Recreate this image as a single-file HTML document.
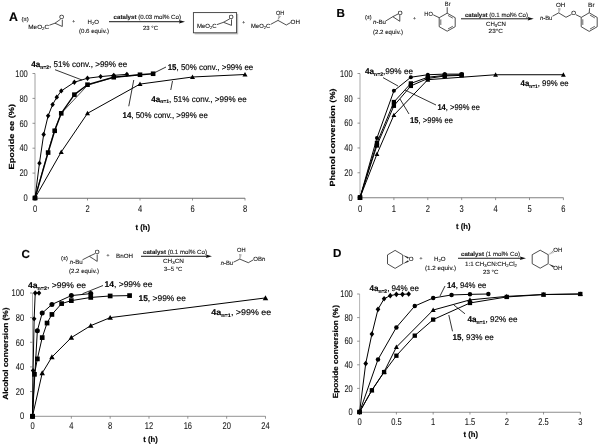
<!DOCTYPE html>
<html><head><meta charset="utf-8"><style>
html,body{margin:0;padding:0;background:#fff;}
svg{display:block;font-family:"Liberation Sans", sans-serif;text-rendering:geometricPrecision;}
text{stroke:#111;stroke-width:0.16px;}
.hd text{stroke-width:0.12px;}
text.tk{stroke-width:0.06px;}
</style></head><body>
<svg width="600" height="444" viewBox="0 0 600 444">
<defs><filter id="bl" x="0" y="0" width="600" height="444" filterUnits="userSpaceOnUse"><feGaussianBlur stdDeviation="0.4"/></filter></defs>
<rect width="600" height="444" fill="#fff"/>
<g filter="url(#bl)">
<path d="M35,73.49999999999999 V198" fill="none" stroke="#a0a0a0" stroke-width="1"/>
<path d="M34.5,198.2 H245.0" fill="none" stroke="#6e6e6e" stroke-width="1.1"/>
<line x1="32.5" y1="198.0" x2="35" y2="198.0" stroke="#7a7a7a" stroke-width="0.8"/>
<text x="27.8" y="201.28" font-size="9.8" text-anchor="end" textLength="4.2" lengthAdjust="spacingAndGlyphs" fill="#111" class="tk">0</text>
<line x1="32.5" y1="173.1" x2="35" y2="173.1" stroke="#7a7a7a" stroke-width="0.8"/>
<text x="27.8" y="176.38" font-size="9.8" text-anchor="end" textLength="8.39" lengthAdjust="spacingAndGlyphs" fill="#111" class="tk">20</text>
<line x1="32.5" y1="148.2" x2="35" y2="148.2" stroke="#7a7a7a" stroke-width="0.8"/>
<text x="27.8" y="151.48" font-size="9.8" text-anchor="end" textLength="8.39" lengthAdjust="spacingAndGlyphs" fill="#111" class="tk">40</text>
<line x1="32.5" y1="123.3" x2="35" y2="123.3" stroke="#7a7a7a" stroke-width="0.8"/>
<text x="27.8" y="126.58" font-size="9.8" text-anchor="end" textLength="8.39" lengthAdjust="spacingAndGlyphs" fill="#111" class="tk">60</text>
<line x1="32.5" y1="98.39999999999999" x2="35" y2="98.39999999999999" stroke="#7a7a7a" stroke-width="0.8"/>
<text x="27.8" y="101.68" font-size="9.8" text-anchor="end" textLength="8.39" lengthAdjust="spacingAndGlyphs" fill="#111" class="tk">80</text>
<line x1="32.5" y1="73.49999999999999" x2="35" y2="73.49999999999999" stroke="#7a7a7a" stroke-width="0.8"/>
<text x="27.8" y="76.78" font-size="9.8" text-anchor="end" textLength="12.59" lengthAdjust="spacingAndGlyphs" fill="#111" class="tk">100</text>
<line x1="35.0" y1="198" x2="35.0" y2="200.5" stroke="#7a7a7a" stroke-width="0.8"/>
<text x="35.0" y="212.13" font-size="9.8" text-anchor="middle" textLength="4.2" lengthAdjust="spacingAndGlyphs" fill="#111" class="tk">0</text>
<line x1="87.5" y1="198" x2="87.5" y2="200.5" stroke="#7a7a7a" stroke-width="0.8"/>
<text x="87.5" y="212.13" font-size="9.8" text-anchor="middle" textLength="4.2" lengthAdjust="spacingAndGlyphs" fill="#111" class="tk">2</text>
<line x1="140.0" y1="198" x2="140.0" y2="200.5" stroke="#7a7a7a" stroke-width="0.8"/>
<text x="140.0" y="212.13" font-size="9.8" text-anchor="middle" textLength="4.2" lengthAdjust="spacingAndGlyphs" fill="#111" class="tk">4</text>
<line x1="192.5" y1="198" x2="192.5" y2="200.5" stroke="#7a7a7a" stroke-width="0.8"/>
<text x="192.5" y="212.13" font-size="9.8" text-anchor="middle" textLength="4.2" lengthAdjust="spacingAndGlyphs" fill="#111" class="tk">6</text>
<line x1="245.0" y1="198" x2="245.0" y2="200.5" stroke="#7a7a7a" stroke-width="0.8"/>
<text x="245.0" y="212.13" font-size="9.8" text-anchor="middle" textLength="4.2" lengthAdjust="spacingAndGlyphs" fill="#111" class="tk">8</text>
<polyline points="35.00,198.00 61.25,151.94 87.50,113.34 140.00,84.08 192.50,76.99 245.00,74.50" fill="none" stroke="#000" stroke-width="1.0" stroke-linejoin="round" />
<polygon points="35.00,195.47 37.53,200.02 32.47,200.02" fill="#000"/>
<polygon points="61.25,149.41 63.78,153.96 58.72,153.96" fill="#000"/>
<polygon points="87.50,110.81 90.03,115.36 84.97,115.36" fill="#000"/>
<polygon points="140.00,81.55 142.53,86.11 137.47,86.11" fill="#000"/>
<polygon points="192.50,74.46 195.03,79.01 189.97,79.01" fill="#000"/>
<polygon points="245.00,71.97 247.53,76.52 242.47,76.52" fill="#000"/>
<polyline points="35.00,198.00 48.12,151.31 54.69,129.52 61.25,113.34 87.50,85.33 113.75,77.23 140.00,74.74" fill="none" stroke="#000" stroke-width="0.7" stroke-linejoin="round" />
<polyline points="35.00,198.00 48.12,152.56 54.69,130.77 61.25,113.34 74.38,94.66 87.50,84.70 113.75,77.23 140.00,74.74 153.12,73.75" fill="none" stroke="#000" stroke-width="1.4" stroke-linejoin="round" />
<rect x="32.70" y="195.70" width="4.6" height="4.6" fill="#000"/>
<rect x="45.83" y="150.26" width="4.6" height="4.6" fill="#000"/>
<rect x="52.39" y="128.47" width="4.6" height="4.6" fill="#000"/>
<rect x="58.95" y="111.04" width="4.6" height="4.6" fill="#000"/>
<rect x="72.08" y="92.36" width="4.6" height="4.6" fill="#000"/>
<rect x="85.20" y="82.40" width="4.6" height="4.6" fill="#000"/>
<rect x="111.45" y="74.93" width="4.6" height="4.6" fill="#000"/>
<rect x="137.70" y="72.44" width="4.6" height="4.6" fill="#000"/>
<rect x="150.82" y="71.45" width="4.6" height="4.6" fill="#000"/>
<polyline points="35.00,198.00 39.46,163.14 43.66,134.50 48.12,115.83 52.59,104.62 56.79,97.15 61.25,90.93 74.38,82.21 87.50,78.23 100.62,76.61 113.75,75.37 126.88,74.37" fill="none" stroke="#000" stroke-width="1.0" stroke-linejoin="round" />
<polygon points="35.00,195.33 37.24,198.00 35.00,200.67 32.76,198.00" fill="#000"/>
<polygon points="39.46,160.47 41.70,163.14 39.46,165.81 37.23,163.14" fill="#000"/>
<polygon points="43.66,131.84 45.90,134.50 43.66,137.17 41.43,134.50" fill="#000"/>
<polygon points="48.12,113.16 50.36,115.83 48.12,118.50 45.89,115.83" fill="#000"/>
<polygon points="52.59,101.96 54.82,104.62 52.59,107.29 50.35,104.62" fill="#000"/>
<polygon points="56.79,94.49 59.02,97.15 56.79,99.82 54.55,97.15" fill="#000"/>
<polygon points="61.25,88.26 63.49,90.93 61.25,93.60 59.01,90.93" fill="#000"/>
<polygon points="74.38,79.55 76.61,82.21 74.38,84.88 72.14,82.21" fill="#000"/>
<polygon points="87.50,75.56 89.74,78.23 87.50,80.90 85.26,78.23" fill="#000"/>
<polygon points="100.62,73.95 102.86,76.61 100.62,79.28 98.39,76.61" fill="#000"/>
<polygon points="113.75,72.70 115.99,75.37 113.75,78.03 111.51,75.37" fill="#000"/>
<polygon points="126.88,71.71 129.11,74.37 126.88,77.04 124.64,74.37" fill="#000"/>
<rect x="32.80" y="195.80" width="4.4" height="4.4" fill="#000"/>
<text transform="translate(11.3,136.65) rotate(-90)" y="2.66" font-size="7.4" text-anchor="middle" font-weight="bold" textLength="65.5" lengthAdjust="spacingAndGlyphs" fill="#000" >Epoxide ee (%)</text>
<text x="142.7" y="229.81" font-size="7.8" text-anchor="middle" font-weight="bold" textLength="14.5" lengthAdjust="spacingAndGlyphs" fill="#000" >t (h)</text>
<line x1="55" y1="69.7" x2="82" y2="80" stroke="#000" stroke-width="0.8"/>
<text x="31.3" y="67.19" font-size="8.3" fill="#000" textLength="96" lengthAdjust="spacingAndGlyphs"><tspan font-weight="bold">4a</tspan><tspan font-weight="bold" font-size="5.15" dy="1.6">n=2</tspan><tspan dy="-1.6">, 51% conv., &gt;99% ee</tspan></text>
<line x1="152.5" y1="73.75" x2="166" y2="67" stroke="#000" stroke-width="0.8"/>
<text x="167.7" y="69.69" font-size="8.3" fill="#000" textLength="85.6" lengthAdjust="spacingAndGlyphs"><tspan font-weight="bold">15</tspan><tspan>, 50% conv., &gt;99% ee</tspan></text>
<line x1="172.5" y1="81" x2="170.75" y2="90" stroke="#000" stroke-width="0.8"/>
<text x="151.25" y="101.59" font-size="8.3" fill="#000" textLength="95.5" lengthAdjust="spacingAndGlyphs"><tspan font-weight="bold">4a</tspan><tspan font-weight="bold" font-size="5.15" dy="1.6">n=1</tspan><tspan dy="-1.6">, 51% conv., &gt;99% ee</tspan></text>
<line x1="133.75" y1="80" x2="128.75" y2="106.25" stroke="#000" stroke-width="0.8"/>
<text x="122.5" y="117.69" font-size="8.3" fill="#000" textLength="85.3" lengthAdjust="spacingAndGlyphs"><tspan font-weight="bold">14</tspan><tspan>, 50% conv., &gt;99% ee</tspan></text>
<path d="M360,73.49999999999999 V197.6" fill="none" stroke="#a8a8a8" stroke-width="1"/>
<path d="M359.5,197.79999999999998 H563.4" fill="none" stroke="#808080" stroke-width="1.1"/>
<line x1="357.5" y1="197.6" x2="360" y2="197.6" stroke="#7a7a7a" stroke-width="0.8"/>
<text x="352.6" y="200.88" font-size="9.8" text-anchor="end" textLength="4.2" lengthAdjust="spacingAndGlyphs" fill="#111" class="tk">0</text>
<line x1="357.5" y1="172.78" x2="360" y2="172.78" stroke="#7a7a7a" stroke-width="0.8"/>
<text x="352.6" y="176.06" font-size="9.8" text-anchor="end" textLength="8.39" lengthAdjust="spacingAndGlyphs" fill="#111" class="tk">20</text>
<line x1="357.5" y1="147.95999999999998" x2="360" y2="147.95999999999998" stroke="#7a7a7a" stroke-width="0.8"/>
<text x="352.6" y="151.24" font-size="9.8" text-anchor="end" textLength="8.39" lengthAdjust="spacingAndGlyphs" fill="#111" class="tk">40</text>
<line x1="357.5" y1="123.13999999999999" x2="360" y2="123.13999999999999" stroke="#7a7a7a" stroke-width="0.8"/>
<text x="352.6" y="126.42" font-size="9.8" text-anchor="end" textLength="8.39" lengthAdjust="spacingAndGlyphs" fill="#111" class="tk">60</text>
<line x1="357.5" y1="98.32" x2="360" y2="98.32" stroke="#7a7a7a" stroke-width="0.8"/>
<text x="352.6" y="101.60" font-size="9.8" text-anchor="end" textLength="8.39" lengthAdjust="spacingAndGlyphs" fill="#111" class="tk">80</text>
<line x1="357.5" y1="73.49999999999999" x2="360" y2="73.49999999999999" stroke="#7a7a7a" stroke-width="0.8"/>
<text x="352.6" y="76.78" font-size="9.8" text-anchor="end" textLength="12.59" lengthAdjust="spacingAndGlyphs" fill="#111" class="tk">100</text>
<line x1="360.0" y1="197.6" x2="360.0" y2="200.1" stroke="#7a7a7a" stroke-width="0.8"/>
<text x="360.0" y="212.03" font-size="9.8" text-anchor="middle" textLength="4.2" lengthAdjust="spacingAndGlyphs" fill="#111" class="tk">0</text>
<line x1="393.9" y1="197.6" x2="393.9" y2="200.1" stroke="#7a7a7a" stroke-width="0.8"/>
<text x="393.9" y="212.03" font-size="9.8" text-anchor="middle" textLength="4.2" lengthAdjust="spacingAndGlyphs" fill="#111" class="tk">1</text>
<line x1="427.8" y1="197.6" x2="427.8" y2="200.1" stroke="#7a7a7a" stroke-width="0.8"/>
<text x="427.8" y="212.03" font-size="9.8" text-anchor="middle" textLength="4.2" lengthAdjust="spacingAndGlyphs" fill="#111" class="tk">2</text>
<line x1="461.7" y1="197.6" x2="461.7" y2="200.1" stroke="#7a7a7a" stroke-width="0.8"/>
<text x="461.7" y="212.03" font-size="9.8" text-anchor="middle" textLength="4.2" lengthAdjust="spacingAndGlyphs" fill="#111" class="tk">3</text>
<line x1="495.6" y1="197.6" x2="495.6" y2="200.1" stroke="#7a7a7a" stroke-width="0.8"/>
<text x="495.6" y="212.03" font-size="9.8" text-anchor="middle" textLength="4.2" lengthAdjust="spacingAndGlyphs" fill="#111" class="tk">4</text>
<line x1="529.5" y1="197.6" x2="529.5" y2="200.1" stroke="#7a7a7a" stroke-width="0.8"/>
<text x="529.5" y="212.03" font-size="9.8" text-anchor="middle" textLength="4.2" lengthAdjust="spacingAndGlyphs" fill="#111" class="tk">5</text>
<line x1="563.4" y1="197.6" x2="563.4" y2="200.1" stroke="#7a7a7a" stroke-width="0.8"/>
<text x="563.4" y="212.03" font-size="9.8" text-anchor="middle" textLength="4.2" lengthAdjust="spacingAndGlyphs" fill="#111" class="tk">6</text>
<polyline points="360.00,197.60 376.95,154.16 393.90,115.07 427.80,79.70 495.60,74.74 563.40,74.74" fill="none" stroke="#000" stroke-width="1.0" stroke-linejoin="round" />
<polygon points="360.00,195.18 362.42,199.54 357.58,199.54" fill="#000"/>
<polygon points="376.95,151.75 379.37,156.10 374.53,156.10" fill="#000"/>
<polygon points="393.90,112.65 396.32,117.01 391.48,117.01" fill="#000"/>
<polygon points="427.80,77.28 430.22,81.64 425.38,81.64" fill="#000"/>
<polygon points="495.60,72.32 498.02,76.68 493.18,76.68" fill="#000"/>
<polygon points="563.40,72.32 565.82,76.68 560.98,76.68" fill="#000"/>
<polyline points="360.00,197.60 376.95,145.48 393.90,105.77 410.85,85.91 427.80,78.46 444.75,75.98 461.70,75.36" fill="none" stroke="#000" stroke-width="1.0" stroke-linejoin="round" />
<rect x="357.85" y="195.45" width="4.3" height="4.3" fill="#000"/>
<rect x="374.80" y="143.33" width="4.3" height="4.3" fill="#000"/>
<rect x="391.75" y="103.62" width="4.3" height="4.3" fill="#000"/>
<rect x="408.70" y="83.76" width="4.3" height="4.3" fill="#000"/>
<rect x="425.65" y="76.31" width="4.3" height="4.3" fill="#000"/>
<rect x="442.60" y="73.83" width="4.3" height="4.3" fill="#000"/>
<rect x="459.55" y="73.21" width="4.3" height="4.3" fill="#000"/>
<polyline points="360.00,197.60 376.95,143.00 393.90,102.04 410.85,83.43 427.80,77.22 444.75,75.36 461.70,74.74" fill="none" stroke="#000" stroke-width="1.0" stroke-linejoin="round" />
<rect x="357.85" y="195.45" width="4.3" height="4.3" fill="#000"/>
<rect x="374.80" y="140.85" width="4.3" height="4.3" fill="#000"/>
<rect x="391.75" y="99.89" width="4.3" height="4.3" fill="#000"/>
<rect x="408.70" y="81.28" width="4.3" height="4.3" fill="#000"/>
<rect x="425.65" y="75.07" width="4.3" height="4.3" fill="#000"/>
<rect x="442.60" y="73.21" width="4.3" height="4.3" fill="#000"/>
<rect x="459.55" y="72.59" width="4.3" height="4.3" fill="#000"/>
<polyline points="360.00,197.60 376.95,138.03 393.90,90.87 410.85,77.22 427.80,74.74 444.75,74.12 461.70,74.12" fill="none" stroke="#000" stroke-width="1.0" stroke-linejoin="round" />
<circle cx="360.00" cy="197.60" r="2.00" fill="#000"/>
<circle cx="376.95" cy="138.03" r="2.00" fill="#000"/>
<circle cx="393.90" cy="90.87" r="2.00" fill="#000"/>
<circle cx="410.85" cy="77.22" r="2.00" fill="#000"/>
<circle cx="427.80" cy="74.74" r="2.00" fill="#000"/>
<circle cx="444.75" cy="74.12" r="2.00" fill="#000"/>
<circle cx="461.70" cy="74.12" r="2.00" fill="#000"/>
<rect x="357.80" y="195.40" width="4.4" height="4.4" fill="#000"/>
<text transform="translate(332.6,137.5) rotate(-90)" y="2.66" font-size="7.4" text-anchor="middle" font-weight="bold" textLength="98" lengthAdjust="spacingAndGlyphs" fill="#000" >Phenol conversion (%)</text>
<text x="463.3" y="229.11" font-size="7.8" text-anchor="middle" font-weight="bold" textLength="14.5" lengthAdjust="spacingAndGlyphs" fill="#000" >t (h)</text>
<line x1="383" y1="77.6" x2="398" y2="86" stroke="#000" stroke-width="0.8"/>
<text x="365" y="73.99" font-size="8.3" fill="#000" textLength="48" lengthAdjust="spacingAndGlyphs"><tspan font-weight="bold">4a</tspan><tspan font-weight="bold" font-size="5.15" dy="1.6">n=2</tspan><tspan dy="-1.6">,99% ee</tspan></text>
<line x1="405" y1="90" x2="436" y2="105" stroke="#000" stroke-width="0.8"/>
<text x="437.4" y="109.79" font-size="8.3" fill="#000" textLength="42.6" lengthAdjust="spacingAndGlyphs"><tspan font-weight="bold">14</tspan><tspan>, &gt;99% ee</tspan></text>
<line x1="400" y1="99" x2="409" y2="114" stroke="#000" stroke-width="0.8"/>
<text x="410" y="122.59" font-size="8.3" fill="#000" textLength="43" lengthAdjust="spacingAndGlyphs"><tspan font-weight="bold">15</tspan><tspan>, &gt;99% ee</tspan></text>
<text x="520.6" y="86.49" font-size="8.3" fill="#000" textLength="48" lengthAdjust="spacingAndGlyphs"><tspan font-weight="bold">4a</tspan><tspan font-weight="bold" font-size="5.15" dy="1.6">n=1</tspan><tspan dy="-1.6">, 99% ee</tspan></text>
<path d="M32.5,293.0 V416.2" fill="none" stroke="#a8a8a8" stroke-width="1"/>
<path d="M32.0,416.4 H265.492" fill="none" stroke="#a8a8a8" stroke-width="1.1"/>
<line x1="30.0" y1="416.2" x2="32.5" y2="416.2" stroke="#7a7a7a" stroke-width="0.8"/>
<text x="24.2" y="419.48" font-size="9.8" text-anchor="end" textLength="4.2" lengthAdjust="spacingAndGlyphs" fill="#111" class="tk">0</text>
<line x1="30.0" y1="391.56" x2="32.5" y2="391.56" stroke="#7a7a7a" stroke-width="0.8"/>
<text x="24.2" y="394.84" font-size="9.8" text-anchor="end" textLength="8.39" lengthAdjust="spacingAndGlyphs" fill="#111" class="tk">20</text>
<line x1="30.0" y1="366.91999999999996" x2="32.5" y2="366.91999999999996" stroke="#7a7a7a" stroke-width="0.8"/>
<text x="24.2" y="370.20" font-size="9.8" text-anchor="end" textLength="8.39" lengthAdjust="spacingAndGlyphs" fill="#111" class="tk">40</text>
<line x1="30.0" y1="342.28" x2="32.5" y2="342.28" stroke="#7a7a7a" stroke-width="0.8"/>
<text x="24.2" y="345.56" font-size="9.8" text-anchor="end" textLength="8.39" lengthAdjust="spacingAndGlyphs" fill="#111" class="tk">60</text>
<line x1="30.0" y1="317.64" x2="32.5" y2="317.64" stroke="#7a7a7a" stroke-width="0.8"/>
<text x="24.2" y="320.92" font-size="9.8" text-anchor="end" textLength="8.39" lengthAdjust="spacingAndGlyphs" fill="#111" class="tk">80</text>
<line x1="30.0" y1="293.0" x2="32.5" y2="293.0" stroke="#7a7a7a" stroke-width="0.8"/>
<text x="24.2" y="296.28" font-size="9.8" text-anchor="end" textLength="12.59" lengthAdjust="spacingAndGlyphs" fill="#111" class="tk">100</text>
<line x1="32.5" y1="416.2" x2="32.5" y2="418.7" stroke="#7a7a7a" stroke-width="0.8"/>
<text x="32.5" y="429.13" font-size="9.8" text-anchor="middle" textLength="4.2" lengthAdjust="spacingAndGlyphs" fill="#111" class="tk">0</text>
<line x1="71.332" y1="416.2" x2="71.332" y2="418.7" stroke="#7a7a7a" stroke-width="0.8"/>
<text x="71.332" y="429.13" font-size="9.8" text-anchor="middle" textLength="4.2" lengthAdjust="spacingAndGlyphs" fill="#111" class="tk">4</text>
<line x1="110.164" y1="416.2" x2="110.164" y2="418.7" stroke="#7a7a7a" stroke-width="0.8"/>
<text x="110.164" y="429.13" font-size="9.8" text-anchor="middle" textLength="4.2" lengthAdjust="spacingAndGlyphs" fill="#111" class="tk">8</text>
<line x1="148.996" y1="416.2" x2="148.996" y2="418.7" stroke="#7a7a7a" stroke-width="0.8"/>
<text x="148.996" y="429.13" font-size="9.8" text-anchor="middle" textLength="8.39" lengthAdjust="spacingAndGlyphs" fill="#111" class="tk">12</text>
<line x1="187.828" y1="416.2" x2="187.828" y2="418.7" stroke="#7a7a7a" stroke-width="0.8"/>
<text x="187.828" y="429.13" font-size="9.8" text-anchor="middle" textLength="8.39" lengthAdjust="spacingAndGlyphs" fill="#111" class="tk">16</text>
<line x1="226.66" y1="416.2" x2="226.66" y2="418.7" stroke="#7a7a7a" stroke-width="0.8"/>
<text x="226.66" y="429.13" font-size="9.8" text-anchor="middle" textLength="8.39" lengthAdjust="spacingAndGlyphs" fill="#111" class="tk">20</text>
<line x1="265.492" y1="416.2" x2="265.492" y2="418.7" stroke="#7a7a7a" stroke-width="0.8"/>
<text x="265.492" y="429.13" font-size="9.8" text-anchor="middle" textLength="8.39" lengthAdjust="spacingAndGlyphs" fill="#111" class="tk">24</text>
<polyline points="32.50,416.20 42.21,373.08 51.92,357.06 71.33,337.60 90.75,325.65 110.16,317.64 265.49,297.93" fill="none" stroke="#000" stroke-width="1.0" stroke-linejoin="round" />
<polygon points="32.50,413.45 35.25,418.40 29.75,418.40" fill="#000"/>
<polygon points="42.21,370.33 44.96,375.28 39.46,375.28" fill="#000"/>
<polygon points="51.92,354.31 54.67,359.26 49.17,359.26" fill="#000"/>
<polygon points="71.33,334.85 74.08,339.80 68.58,339.80" fill="#000"/>
<polygon points="90.75,322.90 93.50,327.85 88.00,327.85" fill="#000"/>
<polygon points="110.16,314.89 112.91,319.84 107.41,319.84" fill="#000"/>
<polygon points="265.49,295.18 268.24,300.13 262.74,300.13" fill="#000"/>
<polyline points="32.50,416.20 34.44,374.31 37.35,358.91 42.21,337.60 47.06,323.06 51.92,314.44 61.62,303.60 71.33,300.64 90.75,297.44 110.16,295.96 129.58,295.59" fill="none" stroke="#000" stroke-width="1.0" stroke-linejoin="round" />
<rect x="30.15" y="413.85" width="4.7" height="4.7" fill="#000"/>
<rect x="32.09" y="371.96" width="4.7" height="4.7" fill="#000"/>
<rect x="35.00" y="356.56" width="4.7" height="4.7" fill="#000"/>
<rect x="39.86" y="335.25" width="4.7" height="4.7" fill="#000"/>
<rect x="44.71" y="320.71" width="4.7" height="4.7" fill="#000"/>
<rect x="49.57" y="312.09" width="4.7" height="4.7" fill="#000"/>
<rect x="59.27" y="301.25" width="4.7" height="4.7" fill="#000"/>
<rect x="68.98" y="298.29" width="4.7" height="4.7" fill="#000"/>
<rect x="88.40" y="295.09" width="4.7" height="4.7" fill="#000"/>
<rect x="107.81" y="293.61" width="4.7" height="4.7" fill="#000"/>
<rect x="127.23" y="293.24" width="4.7" height="4.7" fill="#000"/>
<polyline points="32.50,416.20 37.35,330.70 42.21,313.08 51.92,304.46 71.33,295.59 90.75,293.62" fill="none" stroke="#000" stroke-width="1.0" stroke-linejoin="round" />
<circle cx="32.50" cy="416.20" r="2.50" fill="#000"/>
<circle cx="37.35" cy="330.70" r="2.50" fill="#000"/>
<circle cx="42.21" cy="313.08" r="2.50" fill="#000"/>
<circle cx="51.92" cy="304.46" r="2.50" fill="#000"/>
<circle cx="71.33" cy="295.59" r="2.50" fill="#000"/>
<circle cx="90.75" cy="293.62" r="2.50" fill="#000"/>
<polyline points="32.50,416.20 33.08,370.62 34.15,318.87 35.22,293.00 39.00,293.00" fill="none" stroke="#000" stroke-width="1.0" stroke-linejoin="round" />
<polygon points="32.50,413.47 34.79,416.20 32.50,418.93 30.21,416.20" fill="#000"/>
<polygon points="33.08,367.89 35.37,370.62 33.08,373.34 30.79,370.62" fill="#000"/>
<polygon points="34.15,316.14 36.44,318.87 34.15,321.60 31.86,318.87" fill="#000"/>
<polygon points="35.22,290.27 37.51,293.00 35.22,295.73 32.93,293.00" fill="#000"/>
<polygon points="39.00,290.27 41.29,293.00 39.00,295.73 36.72,293.00" fill="#000"/>
<rect x="30.30" y="414.00" width="4.4" height="4.4" fill="#000"/>
<text transform="translate(5.65,353.65) rotate(-90)" y="2.66" font-size="7.4" text-anchor="middle" font-weight="bold" textLength="92.3" lengthAdjust="spacingAndGlyphs" fill="#000" >Alcohol conversion (%)</text>
<text x="150.5" y="441.81" font-size="7.8" text-anchor="middle" font-weight="bold" textLength="14.5" lengthAdjust="spacingAndGlyphs" fill="#000" >t (h)</text>
<text x="28" y="287.99" font-size="8.3" fill="#000" textLength="58" lengthAdjust="spacingAndGlyphs"><tspan font-weight="bold">4a</tspan><tspan font-weight="bold" font-size="5.15" dy="1.6">n=2</tspan><tspan dy="-1.6">, &gt;99% ee</tspan></text>
<line x1="82.5" y1="293.75" x2="103" y2="285.5" stroke="#000" stroke-width="0.8"/>
<text x="104.5" y="287.49" font-size="8.3" fill="#000" textLength="48" lengthAdjust="spacingAndGlyphs"><tspan font-weight="bold">14</tspan><tspan>, &gt;99% ee</tspan></text>
<text x="138.5" y="300.79" font-size="8.3" fill="#000" textLength="47.5" lengthAdjust="spacingAndGlyphs"><tspan font-weight="bold">15</tspan><tspan>, &gt;99% ee</tspan></text>
<text x="211.3" y="315.49" font-size="8.3" fill="#000" textLength="60" lengthAdjust="spacingAndGlyphs"><tspan font-weight="bold">4a</tspan><tspan font-weight="bold" font-size="5.15" dy="1.6">n=1</tspan><tspan dy="-1.6">, &gt;99% ee</tspan></text>
<path d="M359.6,294.0 V412" fill="none" stroke="#b4b4b4" stroke-width="1"/>
<path d="M359.1,412.2 H580.31" fill="none" stroke="#8c8c8c" stroke-width="1.1"/>
<line x1="357.1" y1="412.0" x2="359.6" y2="412.0" stroke="#7a7a7a" stroke-width="0.8"/>
<text x="352.8" y="415.28" font-size="9.8" text-anchor="end" textLength="4.2" lengthAdjust="spacingAndGlyphs" fill="#111" class="tk">0</text>
<line x1="357.1" y1="388.4" x2="359.6" y2="388.4" stroke="#7a7a7a" stroke-width="0.8"/>
<text x="352.8" y="391.68" font-size="9.8" text-anchor="end" textLength="8.39" lengthAdjust="spacingAndGlyphs" fill="#111" class="tk">20</text>
<line x1="357.1" y1="364.8" x2="359.6" y2="364.8" stroke="#7a7a7a" stroke-width="0.8"/>
<text x="352.8" y="368.08" font-size="9.8" text-anchor="end" textLength="8.39" lengthAdjust="spacingAndGlyphs" fill="#111" class="tk">40</text>
<line x1="357.1" y1="341.2" x2="359.6" y2="341.2" stroke="#7a7a7a" stroke-width="0.8"/>
<text x="352.8" y="344.48" font-size="9.8" text-anchor="end" textLength="8.39" lengthAdjust="spacingAndGlyphs" fill="#111" class="tk">60</text>
<line x1="357.1" y1="317.6" x2="359.6" y2="317.6" stroke="#7a7a7a" stroke-width="0.8"/>
<text x="352.8" y="320.88" font-size="9.8" text-anchor="end" textLength="8.39" lengthAdjust="spacingAndGlyphs" fill="#111" class="tk">80</text>
<line x1="357.1" y1="294.0" x2="359.6" y2="294.0" stroke="#7a7a7a" stroke-width="0.8"/>
<text x="352.8" y="297.28" font-size="9.8" text-anchor="end" textLength="12.59" lengthAdjust="spacingAndGlyphs" fill="#111" class="tk">100</text>
<line x1="359.6" y1="412" x2="359.6" y2="414.5" stroke="#7a7a7a" stroke-width="0.8"/>
<text x="359.6" y="425.13" font-size="9.8" text-anchor="middle" textLength="4.2" lengthAdjust="spacingAndGlyphs" fill="#111" class="tk">0</text>
<line x1="396.385" y1="412" x2="396.385" y2="414.5" stroke="#7a7a7a" stroke-width="0.8"/>
<text x="396.385" y="425.13" font-size="9.8" text-anchor="middle" textLength="10.49" lengthAdjust="spacingAndGlyphs" fill="#111" class="tk">0.5</text>
<line x1="433.17" y1="412" x2="433.17" y2="414.5" stroke="#7a7a7a" stroke-width="0.8"/>
<text x="433.17" y="425.13" font-size="9.8" text-anchor="middle" textLength="4.2" lengthAdjust="spacingAndGlyphs" fill="#111" class="tk">1</text>
<line x1="469.95500000000004" y1="412" x2="469.95500000000004" y2="414.5" stroke="#7a7a7a" stroke-width="0.8"/>
<text x="469.95500000000004" y="425.13" font-size="9.8" text-anchor="middle" textLength="10.49" lengthAdjust="spacingAndGlyphs" fill="#111" class="tk">1.5</text>
<line x1="506.74" y1="412" x2="506.74" y2="414.5" stroke="#7a7a7a" stroke-width="0.8"/>
<text x="506.74" y="425.13" font-size="9.8" text-anchor="middle" textLength="4.2" lengthAdjust="spacingAndGlyphs" fill="#111" class="tk">2</text>
<line x1="543.525" y1="412" x2="543.525" y2="414.5" stroke="#7a7a7a" stroke-width="0.8"/>
<text x="543.525" y="425.13" font-size="9.8" text-anchor="middle" textLength="10.49" lengthAdjust="spacingAndGlyphs" fill="#111" class="tk">2.5</text>
<line x1="580.31" y1="412" x2="580.31" y2="414.5" stroke="#7a7a7a" stroke-width="0.8"/>
<text x="580.31" y="425.13" font-size="9.8" text-anchor="middle" textLength="4.2" lengthAdjust="spacingAndGlyphs" fill="#111" class="tk">3</text>
<polyline points="359.60,412.00 371.89,390.17 384.10,371.88 396.38,347.10 433.17,310.05 469.96,299.90 506.74,296.36 543.52,294.47 580.31,294.00" fill="none" stroke="#000" stroke-width="1.0" stroke-linejoin="round" />
<polygon points="359.60,409.47 362.13,414.02 357.07,414.02" fill="#000"/>
<polygon points="371.89,387.64 374.42,392.19 369.36,392.19" fill="#000"/>
<polygon points="384.10,369.35 386.63,373.90 381.57,373.90" fill="#000"/>
<polygon points="396.38,344.57 398.91,349.12 393.86,349.12" fill="#000"/>
<polygon points="433.17,307.52 435.70,312.07 430.64,312.07" fill="#000"/>
<polygon points="469.96,297.37 472.49,301.92 467.43,301.92" fill="#000"/>
<polygon points="506.74,293.83 509.27,298.38 504.21,298.38" fill="#000"/>
<polygon points="543.52,291.94 546.05,296.50 541.00,296.50" fill="#000"/>
<polygon points="580.31,291.47 582.84,296.02 577.78,296.02" fill="#000"/>
<polyline points="359.60,412.00 371.89,390.29 384.10,372.12 396.38,355.71 414.78,335.65 433.17,319.61 469.96,302.97 506.74,296.95 543.52,294.59 580.31,294.00" fill="none" stroke="#000" stroke-width="1.0" stroke-linejoin="round" />
<rect x="357.45" y="409.85" width="4.3" height="4.3" fill="#000"/>
<rect x="369.74" y="388.14" width="4.3" height="4.3" fill="#000"/>
<rect x="381.95" y="369.97" width="4.3" height="4.3" fill="#000"/>
<rect x="394.24" y="353.56" width="4.3" height="4.3" fill="#000"/>
<rect x="412.63" y="333.50" width="4.3" height="4.3" fill="#000"/>
<rect x="431.02" y="317.46" width="4.3" height="4.3" fill="#000"/>
<rect x="467.81" y="300.82" width="4.3" height="4.3" fill="#000"/>
<rect x="504.59" y="294.80" width="4.3" height="4.3" fill="#000"/>
<rect x="541.38" y="292.44" width="4.3" height="4.3" fill="#000"/>
<rect x="578.16" y="291.85" width="4.3" height="4.3" fill="#000"/>
<polyline points="359.60,412.00 377.99,359.49 396.38,327.39 414.78,306.04 433.17,298.01 451.56,294.94 469.96,294.35 488.35,294.00" fill="none" stroke="#000" stroke-width="1.0" stroke-linejoin="round" />
<circle cx="359.60" cy="412.00" r="2.25" fill="#000"/>
<circle cx="377.99" cy="359.49" r="2.25" fill="#000"/>
<circle cx="396.38" cy="327.39" r="2.25" fill="#000"/>
<circle cx="414.78" cy="306.04" r="2.25" fill="#000"/>
<circle cx="433.17" cy="298.01" r="2.25" fill="#000"/>
<circle cx="451.56" cy="294.94" r="2.25" fill="#000"/>
<circle cx="469.96" cy="294.35" r="2.25" fill="#000"/>
<circle cx="488.35" cy="294.00" r="2.25" fill="#000"/>
<polyline points="359.60,412.00 365.71,363.62 371.89,334.12 377.99,309.34 384.10,298.72 390.28,295.65 396.38,294.35 402.49,294.35 408.67,294.00" fill="none" stroke="#000" stroke-width="1.0" stroke-linejoin="round" />
<polygon points="359.60,409.21 361.94,412.00 359.60,414.79 357.26,412.00" fill="#000"/>
<polygon points="365.71,360.83 368.05,363.62 365.71,366.41 363.37,363.62" fill="#000"/>
<polygon points="371.89,331.33 374.23,334.12 371.89,336.91 369.55,334.12" fill="#000"/>
<polygon points="377.99,306.55 380.33,309.34 377.99,312.13 375.65,309.34" fill="#000"/>
<polygon points="384.10,295.93 386.44,298.72 384.10,301.51 381.76,298.72" fill="#000"/>
<polygon points="390.28,292.86 392.62,295.65 390.28,298.44 387.94,295.65" fill="#000"/>
<polygon points="396.38,291.56 398.72,294.35 396.38,297.14 394.05,294.35" fill="#000"/>
<polygon points="402.49,291.56 404.83,294.35 402.49,297.14 400.15,294.35" fill="#000"/>
<polygon points="408.67,291.21 411.01,294.00 408.67,296.79 406.33,294.00" fill="#000"/>
<rect x="357.40" y="409.80" width="4.4" height="4.4" fill="#000"/>
<text transform="translate(335.2,351.65) rotate(-90)" y="2.66" font-size="7.4" text-anchor="middle" font-weight="bold" textLength="93" lengthAdjust="spacingAndGlyphs" fill="#000" >Epoxide conversion (%)</text>
<text x="470.8" y="437.01" font-size="7.8" text-anchor="middle" font-weight="bold" textLength="14.5" lengthAdjust="spacingAndGlyphs" fill="#000" >t (h)</text>
<text x="369.4" y="291.49" font-size="8.3" fill="#000" textLength="49.6" lengthAdjust="spacingAndGlyphs"><tspan font-weight="bold">4a</tspan><tspan font-weight="bold" font-size="5.15" dy="1.6">n=2</tspan><tspan dy="-1.6">, 94% ee</tspan></text>
<line x1="440" y1="296" x2="445" y2="286" stroke="#000" stroke-width="0.8"/>
<text x="447" y="287.99" font-size="8.3" fill="#000" textLength="39.3" lengthAdjust="spacingAndGlyphs"><tspan font-weight="bold">14</tspan><tspan>, 94% ee</tspan></text>
<line x1="453.8" y1="305" x2="465" y2="313.8" stroke="#000" stroke-width="0.8"/>
<text x="467.5" y="322.29" font-size="8.3" fill="#000" textLength="50" lengthAdjust="spacingAndGlyphs"><tspan font-weight="bold">4a</tspan><tspan font-weight="bold" font-size="5.15" dy="1.6">n=1</tspan><tspan dy="-1.6">, 92% ee</tspan></text>
<line x1="448.8" y1="315" x2="452.5" y2="331.3" stroke="#000" stroke-width="0.8"/>
<text x="452.5" y="339.99" font-size="8.3" fill="#000" textLength="41.3" lengthAdjust="spacingAndGlyphs"><tspan font-weight="bold">15</tspan><tspan>, 93% ee</tspan></text>
<text x="9.0" y="20.83" font-size="12.3" text-anchor="start" font-weight="bold" fill="#000" >A</text>
<text x="336.6" y="16.78" font-size="11.6" text-anchor="start" font-weight="bold" fill="#000" >B</text>
<text x="21.6" y="257.58" font-size="11.6" text-anchor="start" font-weight="bold" fill="#000" >C</text>
<text x="333.0" y="257.48" font-size="11.6" text-anchor="start" font-weight="bold" fill="#000" >D</text>
<g class="hd">
<text x="21.5" y="21.14" font-size="5.4" text-anchor="start" textLength="7.300000000000001" lengthAdjust="spacingAndGlyphs" fill="#222" >(±)</text>
<text x="28.3" y="28.70" font-size="6.1" text-anchor="start" textLength="20.9" lengthAdjust="spacingAndGlyphs" fill="#222" >MeO<tspan font-size="4.27" dy="1.3">2</tspan><tspan dy="-1.3">C</tspan></text>
<polyline points="49.40,25.20 55.00,23.20" fill="none" stroke="#222" stroke-width="0.8" stroke-linejoin="round" />
<polyline points="55.00,23.20 60.60,19.20" fill="none" stroke="#222" stroke-width="0.8" stroke-linejoin="round" />
<polyline points="55.00,23.20 62.30,26.50 62.30,19.60" fill="none" stroke="#222" stroke-width="0.8" stroke-linejoin="round" />
<text x="61.7" y="19.00" font-size="6.1" text-anchor="middle" fill="#222" >O</text>
<text x="73.6" y="23.10" font-size="5" text-anchor="middle" fill="#444" >+</text>
<text x="87.6" y="23.50" font-size="6.1" text-anchor="start" textLength="11.4" lengthAdjust="spacingAndGlyphs" fill="#222" >H<tspan font-size="4.27" dy="1.3">2</tspan><tspan dy="-1.3">O</tspan></text>
<text x="79" y="32.90" font-size="6.1" text-anchor="start" textLength="30" lengthAdjust="spacingAndGlyphs" fill="#222" >(0.6 equiv.)</text>
<text x="113.6" y="18.90" font-size="6.1" text-anchor="start" textLength="67.4" lengthAdjust="spacingAndGlyphs" fill="#222" ><tspan font-weight="bold">catalyst</tspan> (0.03 mol% Co)</text>
<line x1="109" y1="21.7" x2="180" y2="21.7" stroke="#1a1a1a" stroke-width="1.0"/>
<polygon points="185,21.7 179,19.9 179.8,21.7 179,23.5" fill="#111"/>
<text x="143" y="29.70" font-size="6.1" text-anchor="start" textLength="15" lengthAdjust="spacingAndGlyphs" fill="#222" >23 °C</text>
<rect x="194.6" y="14.0" width="43.6" height="20.4" fill="#c4c4c4"/>
<rect x="193.4" y="12.6" width="43.2" height="20.2" fill="#fff" stroke="#3a3a3a" stroke-width="0.9"/>
<text x="196.9" y="27.60" font-size="6.1" text-anchor="start" textLength="19.7" lengthAdjust="spacingAndGlyphs" fill="#222" >MeO<tspan font-size="4.27" dy="1.3">2</tspan><tspan dy="-1.3">C</tspan></text>
<polyline points="217.00,24.60 223.50,22.30" fill="none" stroke="#222" stroke-width="0.8" stroke-linejoin="round" />
<polyline points="223.50,22.30 229.80,18.80" fill="none" stroke="#222" stroke-width="0.8" stroke-linejoin="round" />
<polyline points="223.50,22.30 231.50,25.40 231.50,19.40" fill="none" stroke="#222" stroke-width="0.8" stroke-linejoin="round" />
<text x="231" y="19.00" font-size="6.1" text-anchor="middle" fill="#222" >O</text>
<text x="243.8" y="24.30" font-size="5" text-anchor="middle" fill="#444" >+</text>
<text x="251" y="27.60" font-size="6.1" text-anchor="start" textLength="19.3" lengthAdjust="spacingAndGlyphs" fill="#222" >MeO<tspan font-size="4.27" dy="1.3">2</tspan><tspan dy="-1.3">C</tspan></text>
<polyline points="270.60,24.40 278.00,20.40 286.30,25.00 290.60,22.60" fill="none" stroke="#222" stroke-width="0.8" stroke-linejoin="round" />
<line x1="277.78" y1="19.66" x2="278.62" y2="19.94" stroke="#333" stroke-width="0.5"/>
<line x1="277.92" y1="18.37" x2="279.28" y2="18.83" stroke="#333" stroke-width="0.5"/>
<line x1="278.06" y1="17.09" x2="279.94" y2="17.71" stroke="#333" stroke-width="0.5"/>
<line x1="278.20" y1="15.80" x2="280.60" y2="16.60" stroke="#333" stroke-width="0.5"/>
<text x="276" y="15.10" font-size="6.1" text-anchor="start" textLength="8.300000000000011" lengthAdjust="spacingAndGlyphs" fill="#222" >OH</text>
<text x="290.6" y="23.80" font-size="6.1" text-anchor="start" textLength="9.399999999999977" lengthAdjust="spacingAndGlyphs" fill="#222" >OH</text>
<text x="364.9" y="19.24" font-size="5.4" text-anchor="start" textLength="6.7000000000000455" lengthAdjust="spacingAndGlyphs" fill="#222" >(±)</text>
<text x="373" y="24.40" font-size="6.1" text-anchor="start" textLength="13" lengthAdjust="spacingAndGlyphs" fill="#222" ><tspan font-style="italic">n</tspan>-Bu</text>
<polyline points="386.00,20.80 392.80,16.70" fill="none" stroke="#222" stroke-width="0.8" stroke-linejoin="round" />
<polyline points="392.80,16.70 398.20,13.90" fill="none" stroke="#222" stroke-width="0.8" stroke-linejoin="round" />
<polyline points="392.80,16.70 399.80,21.30 399.80,15.00" fill="none" stroke="#222" stroke-width="0.8" stroke-linejoin="round" />
<text x="400.1" y="14.80" font-size="6.1" text-anchor="middle" fill="#222" >O</text>
<text x="414.4" y="19.50" font-size="5" text-anchor="middle" fill="#444" >+</text>
<text x="373" y="34.20" font-size="6.1" text-anchor="start" textLength="30" lengthAdjust="spacingAndGlyphs" fill="#222" >(2.2 equiv.)</text>
<polyline points="447.20,13.20 455.20,17.70 455.20,26.70 447.20,31.20 439.20,26.70 439.20,17.70 447.20,13.20" fill="none" stroke="#222" stroke-width="0.8" stroke-linejoin="round" />
<line x1="447.97" y1="15.43" x2="452.83" y2="18.17" stroke="#222" stroke-width="0.7"/>
<line x1="452.83" y1="26.23" x2="447.97" y2="28.97" stroke="#222" stroke-width="0.7"/>
<line x1="440.80" y1="24.94" x2="440.80" y2="19.46" stroke="#222" stroke-width="0.7"/>
<polyline points="439.20,17.70 433.20,14.80" fill="none" stroke="#222" stroke-width="0.8" stroke-linejoin="round" />
<polyline points="447.20,13.20 447.20,7.20" fill="none" stroke="#222" stroke-width="0.8" stroke-linejoin="round" />
<text x="424.3" y="15.60" font-size="6.1" text-anchor="start" textLength="8.5" lengthAdjust="spacingAndGlyphs" fill="#222" >HO</text>
<text x="444.8" y="5.70" font-size="6.1" text-anchor="start" textLength="5.800000000000011" lengthAdjust="spacingAndGlyphs" fill="#222" >Br</text>
<text x="465" y="16.50" font-size="6.1" text-anchor="start" textLength="63" lengthAdjust="spacingAndGlyphs" fill="#222" ><tspan font-weight="bold">catalyst</tspan> (0.1 mol% Co)</text>
<line x1="461" y1="18.8" x2="528.7" y2="18.8" stroke="#1a1a1a" stroke-width="1.0"/>
<polygon points="533.7,18.8 527.7,17.0 528.5,18.8 527.7,20.6" fill="#111"/>
<text x="486" y="25.90" font-size="6.1" text-anchor="start" textLength="20" lengthAdjust="spacingAndGlyphs" fill="#222" >CH<tspan font-size="4.27" dy="1.3">3</tspan><tspan dy="-1.3">CN</tspan></text>
<text x="488.6" y="33.10" font-size="6.1" text-anchor="start" textLength="14.399999999999977" lengthAdjust="spacingAndGlyphs" fill="#222" >23°C</text>
<text x="540" y="19.50" font-size="6.1" text-anchor="start" textLength="12.4" lengthAdjust="spacingAndGlyphs" fill="#222" ><tspan font-style="italic">n</tspan>-Bu</text>
<polyline points="552.50,16.20 558.70,12.90 566.00,17.30 571.50,14.40" fill="none" stroke="#222" stroke-width="0.8" stroke-linejoin="round" />
<line x1="558.37" y1="12.24" x2="559.23" y2="12.39" stroke="#333" stroke-width="0.5"/>
<line x1="558.30" y1="11.02" x2="559.70" y2="11.26" stroke="#333" stroke-width="0.5"/>
<line x1="558.23" y1="9.80" x2="560.17" y2="10.13" stroke="#333" stroke-width="0.5"/>
<line x1="558.16" y1="8.58" x2="560.64" y2="9.00" stroke="#333" stroke-width="0.5"/>
<text x="556" y="6.80" font-size="6.1" text-anchor="start" textLength="9.299999999999955" lengthAdjust="spacingAndGlyphs" fill="#222" >OH</text>
<text x="573.6" y="14.80" font-size="6.1" text-anchor="middle" fill="#222" >O</text>
<polyline points="575.80,14.60 581.20,17.30" fill="none" stroke="#222" stroke-width="0.8" stroke-linejoin="round" />
<polyline points="589.20,12.80 597.20,17.45 597.20,26.75 589.20,31.40 581.20,26.75 581.20,17.45 589.20,12.80" fill="none" stroke="#222" stroke-width="0.8" stroke-linejoin="round" />
<line x1="589.97" y1="15.11" x2="594.83" y2="17.93" stroke="#222" stroke-width="0.7"/>
<line x1="594.83" y1="26.27" x2="589.97" y2="29.09" stroke="#222" stroke-width="0.7"/>
<line x1="582.80" y1="24.93" x2="582.80" y2="19.27" stroke="#222" stroke-width="0.7"/>
<polyline points="589.20,12.80 589.60,8.20" fill="none" stroke="#222" stroke-width="0.8" stroke-linejoin="round" />
<text x="588" y="6.80" font-size="6.1" text-anchor="start" textLength="6.600000000000023" lengthAdjust="spacingAndGlyphs" fill="#222" >Br</text>
<text x="61.0" y="259.84" font-size="5.4" text-anchor="start" textLength="7.0" lengthAdjust="spacingAndGlyphs" fill="#222" >(±)</text>
<text x="69.8" y="264.20" font-size="6.1" text-anchor="start" textLength="13" lengthAdjust="spacingAndGlyphs" fill="#222" ><tspan font-style="italic">n</tspan>-Bu</text>
<polyline points="82.50,259.80 89.30,256.30" fill="none" stroke="#222" stroke-width="0.8" stroke-linejoin="round" />
<polyline points="89.30,256.30 95.20,253.50" fill="none" stroke="#222" stroke-width="0.8" stroke-linejoin="round" />
<polyline points="89.30,256.30 97.20,261.40 97.20,254.40" fill="none" stroke="#222" stroke-width="0.8" stroke-linejoin="round" />
<text x="97" y="254.10" font-size="6.1" text-anchor="middle" fill="#222" >O</text>
<text x="108" y="257.10" font-size="5" text-anchor="middle" fill="#444" >+</text>
<text x="116" y="257.90" font-size="6.1" text-anchor="start" textLength="17" lengthAdjust="spacingAndGlyphs" fill="#222" >BnOH</text>
<text x="69" y="273.10" font-size="6.1" text-anchor="start" textLength="30" lengthAdjust="spacingAndGlyphs" fill="#222" >(2.2 equiv.)</text>
<text x="143" y="253.50" font-size="6.1" text-anchor="start" textLength="64" lengthAdjust="spacingAndGlyphs" fill="#222" ><tspan font-weight="bold">catalyst</tspan> (0.1 mol% Co)</text>
<line x1="141" y1="256.3" x2="206.9" y2="256.3" stroke="#1a1a1a" stroke-width="1.0"/>
<polygon points="211.9,256.3 205.9,254.5 206.70000000000002,256.3 205.9,258.1" fill="#111"/>
<text x="163" y="262.80" font-size="6.1" text-anchor="start" textLength="21" lengthAdjust="spacingAndGlyphs" fill="#222" >CH<tspan font-size="4.27" dy="1.3">3</tspan><tspan dy="-1.3">CN</tspan></text>
<text x="164" y="270.50" font-size="6.1" text-anchor="start" textLength="18.400000000000006" lengthAdjust="spacingAndGlyphs" fill="#222" >3–5 °C</text>
<text x="220.7" y="264.90" font-size="6.1" text-anchor="start" textLength="12.4" lengthAdjust="spacingAndGlyphs" fill="#222" ><tspan font-style="italic">n</tspan>-Bu</text>
<polyline points="233.50,262.20 239.80,259.10 248.30,262.70 253.00,260.00" fill="none" stroke="#222" stroke-width="0.8" stroke-linejoin="round" />
<line x1="239.44" y1="258.43" x2="240.31" y2="258.54" stroke="#333" stroke-width="0.5"/>
<line x1="239.32" y1="257.18" x2="240.73" y2="257.35" stroke="#333" stroke-width="0.5"/>
<line x1="239.19" y1="255.92" x2="241.16" y2="256.16" stroke="#333" stroke-width="0.5"/>
<line x1="239.07" y1="254.66" x2="241.58" y2="254.97" stroke="#333" stroke-width="0.5"/>
<text x="237" y="251.70" font-size="6.1" text-anchor="start" textLength="8.5" lengthAdjust="spacingAndGlyphs" fill="#222" >OH</text>
<text x="253.2" y="260.90" font-size="6.1" text-anchor="start" textLength="12.100000000000023" lengthAdjust="spacingAndGlyphs" fill="#222" >OBn</text>
<polyline points="395.10,250.40 402.70,254.90 402.70,263.90 395.10,268.40 387.50,263.90 387.50,254.90 395.10,250.40" fill="none" stroke="#222" stroke-width="0.8" stroke-linejoin="round" />
<polygon points="402.70,254.90 408.00,258.65 408.80,257.15" fill="#222"/>
<polygon points="402.70,263.90 408.80,261.65 408.00,260.15" fill="#222"/>
<text x="411" y="260.90" font-size="6.1" text-anchor="middle" fill="#222" >O</text>
<text x="421" y="260.10" font-size="5" text-anchor="middle" fill="#444" >+</text>
<text x="434" y="260.50" font-size="6.1" text-anchor="start" textLength="11.6" lengthAdjust="spacingAndGlyphs" fill="#222" >H<tspan font-size="4.27" dy="1.3">2</tspan><tspan dy="-1.3">O</tspan></text>
<text x="425" y="270.40" font-size="6.1" text-anchor="start" textLength="31" lengthAdjust="spacingAndGlyphs" fill="#222" >(1.2 equiv.)</text>
<text x="461" y="255.90" font-size="6.1" text-anchor="start" textLength="59" lengthAdjust="spacingAndGlyphs" fill="#222" ><tspan font-weight="bold">catalyst</tspan> (1 mol% Co)</text>
<line x1="458" y1="258.25" x2="520.9" y2="258.25" stroke="#1a1a1a" stroke-width="1.0"/>
<polygon points="525.9,258.25 519.9,256.45 520.6999999999999,258.25 519.9,260.05" fill="#111"/>
<text x="465" y="265.50" font-size="6.1" text-anchor="start" textLength="52" lengthAdjust="spacingAndGlyphs" fill="#222" >1:1 CH<tspan font-size="4.27" dy="1.3">3</tspan><tspan dy="-1.3">CN:CH</tspan><tspan font-size="4.27" dy="1.3">2</tspan><tspan dy="-1.3">Cl</tspan><tspan font-size="4.27" dy="1.3">2</tspan></text>
<text x="483" y="274.10" font-size="6.1" text-anchor="start" textLength="15.399999999999977" lengthAdjust="spacingAndGlyphs" fill="#222" >23 °C</text>
<polyline points="540.20,250.20 548.20,254.70 548.20,263.70 540.20,268.20 532.20,263.70 532.20,254.70 540.20,250.20" fill="none" stroke="#222" stroke-width="0.8" stroke-linejoin="round" />
<line x1="548.63" y1="253.94" x2="549.07" y2="254.69" stroke="#333" stroke-width="0.5"/>
<line x1="549.79" y1="252.93" x2="550.51" y2="254.15" stroke="#333" stroke-width="0.5"/>
<line x1="550.94" y1="251.91" x2="551.96" y2="253.61" stroke="#333" stroke-width="0.5"/>
<line x1="552.10" y1="250.90" x2="553.40" y2="253.07" stroke="#333" stroke-width="0.5"/>
<polygon points="548.20,263.70 553.15,267.58 554.05,266.02" fill="#222"/>
<text x="553.3" y="251.90" font-size="6.1" text-anchor="start" textLength="9.0" lengthAdjust="spacingAndGlyphs" fill="#222" >OH</text>
<text x="553.3" y="269.90" font-size="6.1" text-anchor="start" textLength="9.0" lengthAdjust="spacingAndGlyphs" fill="#222" >OH</text>
</g>
</g>
</svg></body></html>
